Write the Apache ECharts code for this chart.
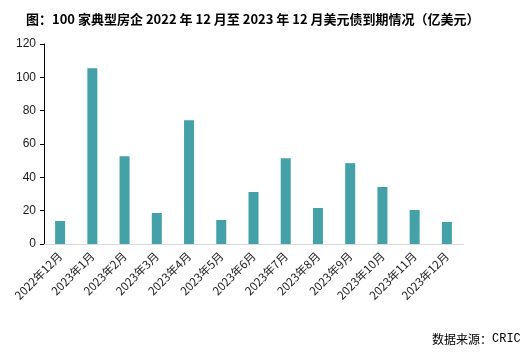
<!DOCTYPE html>
<html>
<head>
<meta charset="utf-8">
<style>
  html, body { margin: 0; padding: 0; background: #fff; }
  #chart { width: 524px; height: 353px; }
</style>
<script src="https://cdn.jsdelivr.net/npm/echarts@6/dist/echarts.min.js"></script>
</head>
<body>
<div id="chart"></div>
<script>
// 月份
const months = [
    "2022年12月", "2023年1月", "2023年2月", "2023年3月", "2023年4月",
    "2023年5月", "2023年6月", "2023年7月", "2023年8月", "2023年9月",
    "2023年10月", "2023年11月", "2023年12月"
];
// 美元债到期金额（亿美元）
const dueAmounts = [13.8, 105.4, 52.7, 18.6, 74.3, 14.4, 31.2, 51.5, 21.6, 48.5, 34.2, 20.4, 13.2];
const yTicks = [0, 20, 40, 60, 80, 100, 120];

let myChart = echarts.init(document.getElementById("chart"));
let option = {
    animation: false,
    color: ["#43a1a7"],
    title: [
        {
            text: "图：100 家典型房企 2022 年 12 月至 2023 年 12 月美元债到期情况（亿美元）",
            left: 21,
            top: 8,
            textStyle: {
                fontFamily: "Noto Sans CJK SC",
                fontSize: 13,
                fontWeight: "bold",
                color: "#000",
            },
        },
        {
            // 数据来源
            text: "{cn|数据来源：}{en|CRIC}",
            left: 427,
            top: 328,
            textStyle: {
                fontWeight: "normal",
                rich: {
                    cn: {
                        fontFamily: "Noto Sans CJK SC",
                        fontSize: 12,
                        fontWeight: "normal",
                        color: "#000",
                    },
                    en: {
                        fontFamily: "Liberation Mono",
                        fontSize: 12,
                        fontWeight: "normal",
                        color: "#000",
                    },
                },
            },
        },
    ],
    grid: {
        left: 44,
        right: 61,
        top: 44,
        bottom: 109,
    },
    xAxis: {
        type: "category",
        data: months,
        axisTick: { show: false },
        axisLine: {
            lineStyle: { color: "#d9d9d9", width: 1 },
        },
        axisLabel: {
            rotate: 45,
            interval: 0,
            margin: 10,
            color: "#1a1a1a",
            fontSize: 11.5,
            fontFamily: "Noto Sans CJK SC",
        },
    },
    yAxis: {
        type: "value",
        position: "left",
        min: yTicks[0],
        max: yTicks[yTicks.length - 1],
        interval: 20,
        axisLine: {
            show: true,
            onZero: false,
            lineStyle: { color: "#000", width: 1, opacity: 1 },
        },
        axisTick: {
            show: true,
            length: 4,
            lineStyle: { color: "#000" },
        },
        axisLabel: {
            margin: 8,
            color: "#1a1a1a",
            fontSize: 12,
            fontFamily: "Liberation Sans",
        },
        splitLine: { show: false },
    },
    series: [
        {
            type: "bar",
            barWidth: 10,
            data: dueAmounts,
        },
    ],
};
myChart.setOption(option);
window.addEventListener("resize", function () {
    myChart.resize();
});
</script>
</body>
</html>
